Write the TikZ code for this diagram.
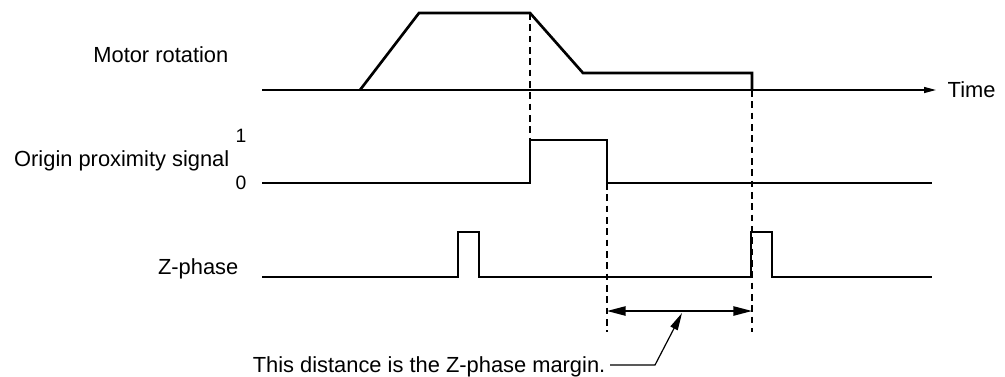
\documentclass[tikz,border=0pt]{standalone}
\usepackage{fontspec}
\setmainfont{Liberation Sans}
\usetikzlibrary{arrows.meta}

\begin{document}
\begin{tikzpicture}[x=0.75pt,y=-0.75pt,font=\fontsize{16.4}{19}\selectfont,
  sig/.style={line width=2pt,line join=miter},
  guide/.style={line width=1pt,dash pattern=on 5pt off 3.5pt},
  lvl/.style={anchor=base east,font=\fontsize{14.5}{16}\selectfont}]
  \useasboundingbox (0,0) rectangle (1005,376);
  % signal names
  \node[anchor=base east](mot) at (233,62){Motor rotation};
  \node[anchor=base east](orig) at (234,166){Origin proximity signal};
  \node[lvl](one) at (251,142){1};
  \node[lvl](zero) at (251,189){0};
  \node[anchor=base east](zph) at (243,274){Z-phase};
  % time axis
  \coordinate (t0) at (262,90);
  \coordinate (t1) at (936,90);
  \draw[line width=1pt,-{Triangle[length=9pt,width=4.5pt]}](t0)--(t1);
  \node[anchor=base west](time) at (943,97){Time};
  % waveforms
  \coordinate (decel) at (530,13);
  \coordinate (stop) at (752,90);
  \coordinate (off) at (607,183);
  \draw[sig](360,90)--(419,13)--(decel)--(583,73)--(752,73)--(stop);
  \draw[sig](262,183)--(530,183)--(530,140)--(607,140)--(off)--(932,183);
  \draw[sig](262,277)--(458,277)--(458,232)--(479,232)--(479,277)--(751,277)
    --(751,232)--(772,232)--(772,277)--(932,277);
  % guides
  \coordinate (offb) at (607,332);
  \coordinate (stopb) at (752,332);
  \draw[guide](decel)--(530,183);
  \draw[guide](off)--(offb);
  \draw[guide](stop)--(stopb);
  % margin
  \coordinate (m1) at (607,311);
  \coordinate (m2) at (752,311);
  \draw[line width=1.1pt,{Triangle[length=14pt,width=7pt]}-{Triangle[length=14pt,width=7pt]}](m1)--(m2);
  \node[anchor=base east](note) at (610,372){This distance is the Z-phase margin.};
  \coordinate (bend) at (655,365);
  \coordinate (ptr) at (682,313);
  \draw[line width=0.9pt,-{Triangle[length=13pt,width=6pt]}](note.east|-bend)--(bend)--(ptr);
\end{tikzpicture}
\end{document}
